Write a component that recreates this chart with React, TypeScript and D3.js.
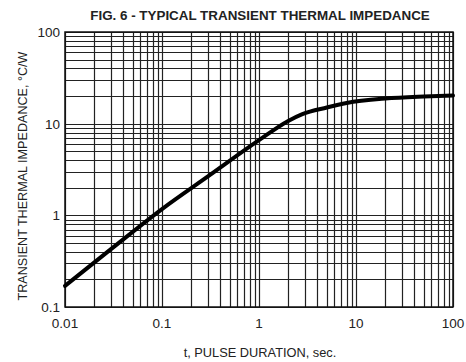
import { useEffect, useRef } from 'react';
import * as d3 from 'd3';

const pulseDuration = [0.01, 0.03, 0.1, 0.3, 1, 2, 2.8, 5, 8, 20, 50, 100];
const impedance = [0.17, 0.43, 1.17, 2.67, 6.6, 10.7, 12.7, 15.0, 16.8, 18.8, 19.8, 20.3];
const xTickLabels = ['0.01', '0.1', '1', '10', '100'];
const yTickLabels = ['0.1', '1', '10', '100'];

const App = () => {
  const svgRef = useRef(null);

  useEffect(() => {
    const svg = d3.select(svgRef.current);
    svg.selectAll('*').remove();

    const width = 466;
    const height = 362;
    const left = 65, right = 453, top = 32, bottom = 307;

    svg.attr('width', width).attr('height', height);

    const x = d3.scaleLog().domain([0.01, 100]).range([left, right]);
    const y = d3.scaleLog().domain([0.1, 100]).range([bottom, top]);

    const font = 'Arial, "Liberation Sans", Helvetica, sans-serif';

    // Grid lines (major + minor) for every decade
    const xGrid = x.ticks(40);
    const yGrid = y.ticks(30);

    svg.append('g')
      .selectAll('line')
      .data(xGrid)
      .enter()
      .append('line')
      .attr('x1', d => Math.round(x(d)) + 0.5)
      .attr('x2', d => Math.round(x(d)) + 0.5)
      .attr('y1', top)
      .attr('y2', bottom)
      .attr('stroke', '#222')
      .attr('stroke-width', 1.2);

    svg.append('g')
      .selectAll('line')
      .data(yGrid)
      .enter()
      .append('line')
      .attr('x1', left)
      .attr('x2', right)
      .attr('y1', d => Math.round(y(d)) + 0.5)
      .attr('y2', d => Math.round(y(d)) + 0.5)
      .attr('stroke', '#222')
      .attr('stroke-width', 1.2);

    // Frame
    svg.append('rect')
      .attr('x', left)
      .attr('y', top)
      .attr('width', right - left)
      .attr('height', bottom - top)
      .attr('fill', 'none')
      .attr('stroke', '#111')
      .attr('stroke-width', 1.5);

    // Curve
    const line = d3.line()
      .x((d, i) => x(pulseDuration[i]))
      .y(d => y(d))
      .curve(d3.curveMonotoneX);

    svg.append('path')
      .datum(impedance)
      .attr('d', line)
      .attr('fill', 'none')
      .attr('stroke', '#000')
      .attr('stroke-width', 4)
      .attr('stroke-linecap', 'round');

    // Tick labels
    svg.append('g')
      .selectAll('text')
      .data(xTickLabels)
      .enter()
      .append('text')
      .attr('x', d => x(+d))
      .attr('y', 328)
      .attr('text-anchor', 'middle')
      .style('font-family', font)
      .style('font-size', '13.5px')
      .style('fill', '#222')
      .text(d => d);

    svg.append('g')
      .selectAll('text')
      .data(yTickLabels)
      .enter()
      .append('text')
      .attr('x', 60)
      .attr('y', d => y(+d) + 5)
      .attr('text-anchor', 'end')
      .style('font-family', font)
      .style('font-size', '13.5px')
      .style('fill', '#222')
      .text(d => d);

    // Title
    svg.append('text')
      .attr('x', 260)
      .attr('y', 20)
      .attr('text-anchor', 'middle')
      .style('font-family', font)
      .style('font-size', '13.4px')
      .style('font-weight', 'bold')
      .style('fill', '#222')
      .text('FIG. 6 - TYPICAL TRANSIENT THERMAL IMPEDANCE');

    // Axis titles
    svg.append('text')
      .attr('x', 260)
      .attr('y', 357)
      .attr('text-anchor', 'middle')
      .style('font-family', font)
      .style('font-size', '12.8px')
      .style('fill', '#222')
      .text('t, PULSE DURATION, sec.');

    svg.append('text')
      .attr('transform', `translate(27,176) rotate(-90)`)
      .attr('text-anchor', 'middle')
      .style('font-family', font)
      .style('font-size', '12.6px')
      .style('fill', '#222')
      .text('TRANSIENT THERMAL IMPEDANCE, °C/W');
  }, []);

  return (
    <div style={{ position: 'absolute', left: 0, top: 0, background: '#fff' }}>
      <svg ref={svgRef} style={{ display: 'block' }}></svg>
    </div>
  );
};

export default App;
